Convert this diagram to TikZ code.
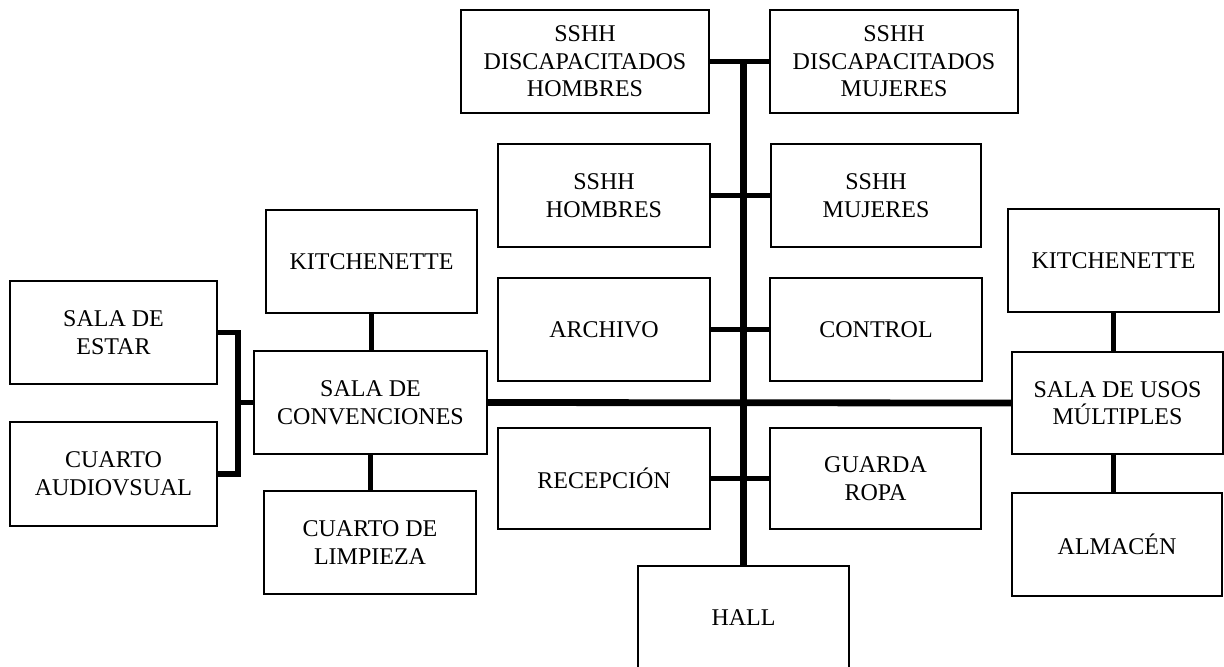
\documentclass[tikz,border=0pt]{standalone}
\usepackage{fontspec}
\setmainfont{Liberation Serif}
\begin{document}
\begin{tikzpicture}[x=0.5pt,y=-0.5pt]
\tikzset{
 room/.style={draw=black, line width=1pt, fill=white, rectangle, inner sep=0pt, align=center, font=\fontsize{12}{13.8}\selectfont, minimum height=51.5pt},
 branch/.style={line width=2.8pt},
 trunkline/.style={line width=3.7pt},
 mainline/.style={line width=3.4pt},
}
\useasboundingbox (0,0) rectangle (1224,666);
% nodes
\node[room, minimum width=124pt] (dh) at (585,61.5) {SSHH\\DISCAPACITADOS\\HOMBRES};
\node[room, minimum width=124pt] (dm) at (894,61.5) {SSHH\\DISCAPACITADOS\\MUJERES};
\node[room, minimum width=106pt] (sh) at (604,195.5) {SSHH\\HOMBRES};
\node[room, minimum width=105pt] (sm) at (876,195.5) {SSHH\\MUJERES};
\node[room, minimum width=106pt] (ar) at (604,329.5) {ARCHIVO};
\node[room, minimum width=106pt] (co) at (876,329.5) {CONTROL};
\node[room, minimum width=106pt, minimum height=50.5pt] (re) at (604,478.5) {RECEPCIÓN};
\node[room, minimum width=105.5pt, minimum height=50.5pt] (gr) at (875.5,478.5) {GUARDA\\ROPA};
\node[room, minimum width=105.5pt] (hall) at (743.5,617.5) {HALL};
\node[room, minimum width=105.5pt] (kL) at (371.5,261.5) {KITCHENETTE};
\node[room, minimum width=116.5pt] (sc) at (370.5,402.5) {SALA DE\\CONVENCIONES};
\node[room, minimum width=106pt] (cl) at (370,542.5) {CUARTO DE\\LIMPIEZA};
\node[room, minimum width=103.5pt] (se) at (113.5,332.5) {SALA DE\\ESTAR};
\node[room, minimum width=103.5pt, minimum height=52pt] (ca) at (113.5,474) {CUARTO\\AUDIOVSUAL};
\node[room, minimum width=105.5pt] (kR) at (1113.5,260.5) {KITCHENETTE};
\node[room, minimum width=105.5pt, minimum height=51pt] (su) at (1117.5,403) {SALA DE USOS\\MÚLTIPLES};
\node[room, minimum width=105pt] (al) at (1117,544.5) {ALMACÉN};
% connectors
\draw[branch] (dh.east) -- (dm.west);
\draw[trunkline] (dh.east -| hall.north) -- (hall.north);
\draw[branch] (sh.east) -- (sm.west);
\draw[branch] (ar.east) -- (co.west);
\draw[branch] (re.east) -- (gr.west);
\draw[mainline] (sc.east) -- (su.west);
\draw[branch] (kL.south) -- (kL.south |- sc.north);
\draw[branch] (sc.south) -- (sc.south |- cl.north);
\draw[branch] (kR.south) -- (kR.south |- su.north);
\draw[branch] (kR.south |- su.south) -- (kR.south |- al.north);
\coordinate (bk) at (238,402.5);
\draw[branch] (se.east) -| (bk) |- (ca.east);
\draw[branch] (bk) -- (sc.west);
\end{tikzpicture}
\end{document}
